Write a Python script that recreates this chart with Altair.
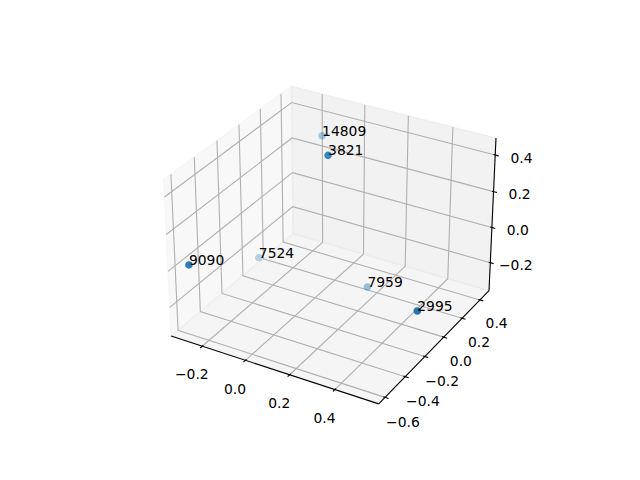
import numpy as np
import pandas as pd
import altair as alt

# ---- data (3D scatter with labels) ----
labels = ["14809", "3821", "9090", "7524", "7959", "2995"]
x_vals = [-0.190, 0.079, -0.260, -0.328, 0.155, 0.571]
y_vals = [0.480, -0.035, -0.638, 0.120, 0.200, -0.246]
z_vals = [0.271, 0.474, 0.055, -0.309, -0.345, -0.091]

x_ticks = [-0.2, 0.0, 0.2, 0.4]
y_ticks = [-0.6, -0.4, -0.2, 0.0, 0.2, 0.4]
z_ticks = [-0.2, 0.0, 0.2, 0.4]


def fmt(t):
    return f"{t:.1f}".replace("-", "\u2212")


# ---- view (matplotlib-like 3D camera) ----
ELEV, AZIM, DIST = 30.0, -60.0, 10.0
VIEW = [-0.095, 0.09]

lims = [(min(v), max(v)) for v in (x_vals, y_vals, z_vals)]
rng = [hi - lo for lo, hi in lims]
lo_p = [lo - r / 48 for (lo, hi), r in zip(lims, rng)]
hi_p = [hi + r / 48 for (lo, hi), r in zip(lims, rng)]
dlt = [r / 12 for r in rng]
LF = 11.5 * 48 / (72 * 2 * 369.6 / 100)

box = np.array([4.0, 4.0, 3.0]) * 1.8294640721620434 / np.sqrt(41.0)
el, az = np.deg2rad(ELEV), np.deg2rad(AZIM)
w_ax = np.array([np.cos(el) * np.cos(az), np.cos(el) * np.sin(az), np.sin(el)])
u_ax = np.cross([0.0, 0.0, 1.0], w_ax)
u_ax /= np.linalg.norm(u_ax)
v_ax = np.cross(w_ax, u_ax)


def lin_expr(vec):
    terms = []
    const = 0.0
    for i, f in enumerate("XYZ"):
        k = vec[i] * box[i] / rng[i]
        terms.append(f"({k:.10f})*datum.{f}")
        const += -vec[i] * box[i] * lims[i][0] / rng[i] - vec[i] * box[i] / 2
    return "(" + "+".join(terms) + f"+({const:.10f}))"


U, V, W = lin_expr(u_ax), lin_expr(v_ax), lin_expr(w_ax)
PX = f"{U}/({DIST}-{W})"
PY = f"{V}/({DIST}-{W})"
DEP = f"-{DIST}/({DIST}-{W})"

xl, yl, zl = lo_p
xh, yh, zh = hi_p
dx, dy, dz = dlt

# panes
pane_rows = []
for pid, col, corners in [
    ("px", "#f2f2f2", [(xl, yl, zl), (xl, yh, zl), (xl, yh, zh), (xl, yl, zh)]),
    ("py", "#e6e6e6", [(xl, yh, zl), (xh, yh, zl), (xh, yh, zh), (xl, yh, zh)]),
    ("pz", "#ececec", [(xl, yl, zl), (xh, yl, zl), (xh, yh, zl), (xl, yh, zl)]),
]:
    for k, (a, b, c) in enumerate(corners):
        pane_rows.append(dict(id=pid, ord=k, col=col, X=a, Y=b, Z=c))
panes_df = pd.DataFrame(pane_rows)

# grid lines
grid_rows = []
for t in x_ticks:
    for k, p in enumerate([(t, yl, zl), (t, yh, zl), (t, yh, zh)]):
        grid_rows.append(dict(id=f"x{t}", ord=k, X=p[0], Y=p[1], Z=p[2]))
for t in y_ticks:
    for k, p in enumerate([(xl, t, zh), (xl, t, zl), (xh, t, zl)]):
        grid_rows.append(dict(id=f"y{t}", ord=k, X=p[0], Y=p[1], Z=p[2]))
for t in z_ticks:
    for k, p in enumerate([(xh, yh, t), (xl, yh, t), (xl, yl, t)]):
        grid_rows.append(dict(id=f"z{t}", ord=k, X=p[0], Y=p[1], Z=p[2]))
grid_df = pd.DataFrame(grid_rows)

# axis lines and tick marks
seg_rows = []
for sid, (p0, p1) in {
    "ax": ((xl, yl, zl), (xh, yl, zl)),
    "ay": ((xh, yh, zl), (xh, yl, zl)),
    "az": ((xh, yh, zl), (xh, yh, zh)),
}.items():
    for k, p in enumerate([p0, p1]):
        seg_rows.append(dict(id=sid, ord=k, X=p[0], Y=p[1], Z=p[2]))
for t in x_ticks:
    for k, p in enumerate([(t, yl - 0.2 * dy, zl), (t, yl + 0.1 * dy, zl)]):
        seg_rows.append(dict(id=f"tx{t}", ord=k, X=p[0], Y=p[1], Z=p[2]))
for t in y_ticks:
    for k, p in enumerate([(xh - 0.1 * dx, t, zl), (xh + 0.2 * dx, t, zl)]):
        seg_rows.append(dict(id=f"ty{t}", ord=k, X=p[0], Y=p[1], Z=p[2]))
for t in z_ticks:
    for k, p in enumerate([(xh - 0.1 * dx, yh, t), (xh + 0.2 * dx, yh, t)]):
        seg_rows.append(dict(id=f"tz{t}", ord=k, X=p[0], Y=p[1], Z=p[2]))
seg_df = pd.DataFrame(seg_rows)

# tick labels
lab_rows = []
for t in x_ticks:
    lab_rows.append(dict(X=t, Y=yl - LF * dy, Z=zl - LF * dz, txt=fmt(t)))
for t in y_ticks:
    lab_rows.append(dict(X=xh + LF * dx, Y=t, Z=zl - LF * dz, txt=fmt(t)))
for t in z_ticks:
    lab_rows.append(dict(X=xh + LF * dx, Y=yh + LF * dy, Z=t, txt=fmt(t)))
lab_df = pd.DataFrame(lab_rows)

pts_df = pd.DataFrame(dict(X=x_vals, Y=y_vals, Z=z_vals, label=labels))

xs = alt.Scale(domain=VIEW, nice=False, zero=False)
ys = alt.Scale(domain=VIEW, nice=False, zero=False)


def base(df):
    return alt.Chart(df).transform_calculate(px=PX, py=PY)


def enc(**kw):
    return dict(
        x=alt.X("px:Q", scale=xs, axis=None),
        y=alt.Y("py:Q", scale=ys, axis=None),
        **kw,
    )


panes = base(panes_df).mark_line(
    interpolate="linear-closed", fillOpacity=0.5, strokeOpacity=0.5, strokeWidth=1.2
).encode(**enc(
    fill=alt.Fill("col:N", scale=None),
    stroke=alt.Stroke("col:N", scale=None),
    detail="id:N",
    order="ord:Q",
))

grid = base(grid_df).mark_line(color="#b0b0b0", strokeWidth=1.1).encode(
    **enc(detail="id:N", order="ord:Q")
)

segs = base(seg_df).mark_line(color="black", strokeWidth=1.1).encode(
    **enc(detail="id:N", order="ord:Q")
)

ticklabels = base(lab_df).mark_text(
    align="center", baseline="top", font="DejaVu Sans", fontSize=13.89, color="black"
).encode(**enc(text="txt:N"))

points = (
    base(pts_df)
    .transform_calculate(dep=DEP)
    .transform_joinaggregate(dmin="min(dep)", dmax="max(dep)")
    .transform_calculate(alpha="1-0.7*(datum.dep-datum.dmin)/(datum.dmax-datum.dmin)")
    .mark_circle(size=38, color="#1f77b4", stroke="#1f77b4", strokeWidth=1.39)
    .encode(**enc(opacity=alt.Opacity("alpha:Q", scale=None)))
)

ptlabels = base(pts_df).mark_text(
    align="left", baseline="alphabetic", font="DejaVu Sans", fontSize=13.89, color="black"
).encode(**enc(text="label:N"))

chart = (
    alt.layer(panes, grid, segs, ticklabels, points, ptlabels)
    .properties(
        width=369.6,
        height=369.6,
        autosize=alt.AutoSizeParams(type="none"),
        padding={"left": 135.2, "top": 49.6, "right": 110, "bottom": 40},
        background="white",
    )
    .configure_view(stroke=None)
)

chart.save("out.html", embed_options={"renderer": "svg", "actions": False})
